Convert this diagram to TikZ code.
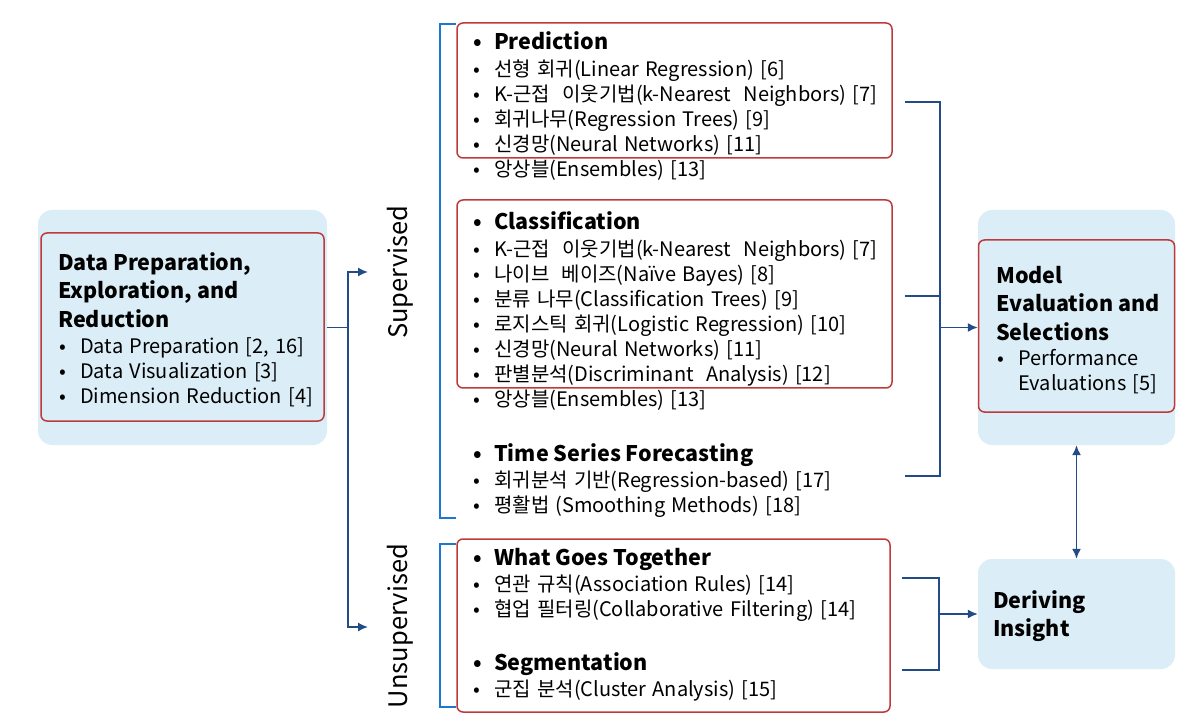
\documentclass[tikz,border=0pt]{standalone}
\usepackage{fontspec}
\setmainfont{Noto Sans CJK KR}
\newfontfamily\itmfont{Noto Sans CJK KR}[WordSpace=1.4]
\usetikzlibrary{positioning,arrows.meta}
\definecolor{bgblue}{RGB}{219,238,247}
\definecolor{boxred}{RGB}{190,58,58}
\definecolor{linkblue}{RGB}{33,76,135}
\definecolor{brkblue}{RGB}{30,120,210}
\tikzstyle{bg}=[fill=bgblue, rounded corners=14pt, inner sep=0pt]
\tikzstyle{grp}=[draw=boxred, line width=1.5pt, rounded corners=6pt, inner sep=0pt]
\tikzstyle{ttl}=[inner sep=0pt, align=left, font=\fontsize{21.5}{28.5}\selectfont\bfseries]
\tikzstyle{itm}=[inner sep=0pt, align=left, font=\itmfont\fontsize{20}{25}\selectfont]
\tikzstyle{lbl}=[inner sep=0pt, rotate=90, font=\fontsize{25.5}{30}\selectfont]
\tikzstyle{conn}=[draw=linkblue, line width=1.6pt]
\tikzstyle{brk}=[draw=brkblue, line width=1.6pt]
\newcommand{\bul}{\makebox[21pt][l]{•}}
\newcommand{\nobul}{\makebox[21pt][l]{}}
\newcommand{\gap}{\hspace{6pt}}

\begin{document}
\begin{tikzpicture}[x=1pt,y=-1pt,>={Latex[length=10pt,width=9pt]}]
\useasboundingbox (0,0) rectangle (1200,727);

% data preparation
\node[bg, minimum width=289pt, minimum height=235pt] (prepbg) at (182.5,327.5) {};
\node[grp, fill=bgblue, minimum width=283pt, minimum height=188pt] (prepbox) at (182.5,327) {};
\node[ttl, anchor=north west] (prept) at (58,252) {Data Preparation,\\Exploration, and\\Reduction};
\node[itm, anchor=north west] (prepl) at (59,337) {\bul Data Preparation [2, 16]\\\bul Data Visualization [3]\\\bul Dimension Reduction [4]};

% supervised / unsupervised
\node[lbl] (suplbl) at (400,272) {Supervised};
\node[lbl] (unslbl) at (400,626) {Unsupervised};
\coordinate (supin) at (368,272);
\coordinate (unsin) at (368,627);
\draw[conn] (prepbg.east) -- ++(21,0) coordinate (split);
\draw[conn,->] (split) |- (supin);
\draw[conn,->] (split) |- (unsin);

\draw[brk] (456,24) -- (440,24) -- (440,518) -- (456,518);
\draw[brk] (456,544) -- (440,544) -- (440,707) -- (456,707);

% method groups
\node[grp, minimum width=435pt, minimum height=135pt] (predbox) at (674.5,90.5) {};
\node[grp, minimum width=435pt, minimum height=188pt] (clsbox) at (674.5,294) {};
\node[grp, minimum width=433pt, minimum height=173pt] (unsbox) at (673.5,625.5) {};

\node[ttl, anchor=base west] (predt) at (473,50) {\bul Prediction};
\node[itm, below right=10pt and 0pt of predt.base west] (predl) {\bul 선형 회귀(Linear Regression) [6]\\\bul K-근접 \gap 이웃기법(k-Nearest \gap Neighbors) [7]\\\bul 회귀나무(Regression Trees) [9]\\\bul 신경망(Neural Networks) [11]\\\bul 앙상블(Ensembles) [13]};

\node[ttl, anchor=base west] (clst) at (473,230) {\bul Classification};
\node[itm, below right=10pt and 0pt of clst.base west] (clsl) {\bul K-근접 \gap 이웃기법(k-Nearest \gap Neighbors) [7]\\\bul 나이브 \gap 베이즈(Naïve Bayes) [8]\\\bul 분류 나무(Classification Trees) [9]\\\bul 로지스틱 회귀(Logistic Regression) [10]\\\bul 신경망(Neural Networks) [11]\\\bul 판별분석(Discriminant \gap Analysis) [12]\\\bul 앙상블(Ensembles) [13]};

\node[ttl, anchor=base west] (tsft) at (473,461) {\bul Time Series Forecasting};
\node[itm, below right=10pt and 0pt of tsft.base west] (tsfl) {\bul 회귀분석 기반(Regression-based) [17]\\\bul 평활법 (Smoothing Methods) [18]};

\node[ttl, anchor=base west] (wgtt) at (473,565) {\bul What Goes Together};
\node[itm, below right=10pt and 0pt of wgtt.base west] (wgtl) {\bul 연관 규칙(Association Rules) [14]\\\bul 협업 필터링(Collaborative Filtering) [14]};

\node[ttl, anchor=base west] (segt) at (473,670) {\bul Segmentation};
\node[itm, below right=10pt and 0pt of segt.base west] (segl) {\bul 군집 분석(Cluster Analysis) [15]};

% model evaluation
\node[bg, minimum width=197pt, minimum height=235pt] (modelbg) at (1076.5,327.5) {};
\node[grp, fill=bgblue, minimum width=196pt, minimum height=172pt] (modelbox) at (1076.5,326) {};
\node[ttl, anchor=north west] (modelt) at (996,266) {Model\\Evaluation and\\Selections};
\node[itm, anchor=north west] (modell) at (997,349) {\bul Performance\\\nobul Evaluations [5]};

% deriving insight
\node[bg, minimum width=197pt, minimum height=110pt] (derivbox) at (1076.5,614) {};
\node[ttl, anchor=north west] (derivt) at (993,590) {Deriving\\Insight};

\coordinate (predout) at (905,102);
\coordinate (clsout) at (905,296);
\coordinate (tsfout) at (905,476);
\draw[conn] (predout) -- ++(35,0) |- (tsfout);
\draw[conn] (clsout) -- ++(35,0);
\draw[conn,<-] (modelbg.west) -- ++(-38,0);

\coordinate (wgtout) at (902,578);
\coordinate (segout) at (902,670);
\draw[conn] (wgtout) -- ++(37,0) |- (segout);
\draw[conn,<-] (derivbox.west) -- ++(-39,0);

\draw[conn,<->] (modelbg.south) -- (derivbox.north);
\end{tikzpicture}
\end{document}
